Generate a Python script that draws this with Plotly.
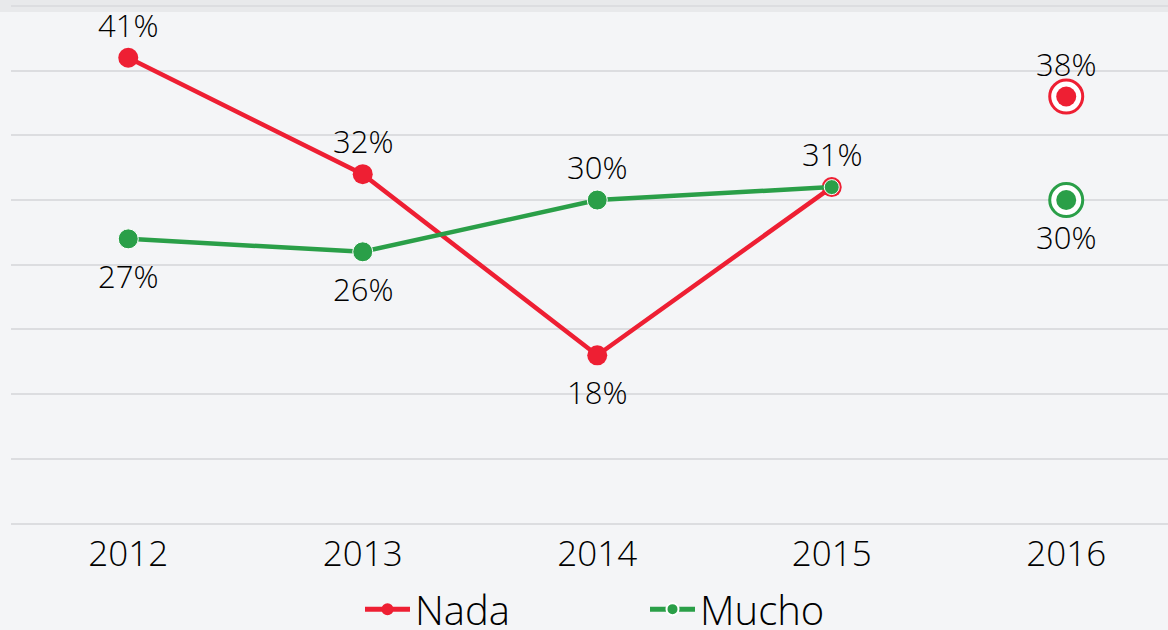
import plotly.graph_objects as go

# Survey results by year (percent of respondents)
years = ["2012", "2013", "2014", "2015", "2016"]
nada = [41, 32, 18, 31, 38]
mucho = [27, 26, 30, 31, 30]

# Label placement per point: +1 above the marker, -1 below, 0 hidden (shared label)
nada_side = [1, 1, -1, 1, 1]
mucho_side = [-1, -1, 1, 0, -1]

RED = "#ee1f33"
GREEN = "#2a9f48"
TXT = "#000000"
BG = "#f4f5f7"
FONT = "Open Sans"
LABEL_FONT = dict(family=FONT, size=31, color=TXT, weight=300)

# 2012-2015 are joined by a line; 2016 is shown as a standalone highlighted point
hist = slice(0, 4)
last = 4

fig = go.Figure()

fig.add_trace(go.Scatter(
    x=years[hist], y=nada[hist], name="Nada",
    mode="lines+markers",
    line=dict(color=RED, width=4.5),
    marker=dict(color=RED, size=20, opacity=1),
    cliponaxis=False,
))
fig.add_trace(go.Scatter(
    x=years[hist], y=mucho[hist], name="Mucho",
    mode="lines+markers",
    line=dict(color=GREEN, width=4.5),
    marker=dict(color=GREEN, size=[20, 20, 20, 15], opacity=1),
    cliponaxis=False,
))

# Highlighted 2016 points: ring plus inner dot
for vals, color in ((nada, RED), (mucho, GREEN)):
    fig.add_trace(go.Scatter(
        x=[years[last]], y=[vals[last]], mode="markers", showlegend=False,
        marker=dict(color="white", size=33, line=dict(color=color, width=3)),
        hoverinfo="skip", cliponaxis=False,
    ))
    fig.add_trace(go.Scatter(
        x=[years[last]], y=[vals[last]], mode="markers", showlegend=False,
        marker=dict(color=color, size=20),
        cliponaxis=False,
    ))

# Value labels (x given as category index)
for vals, sides in ((nada, nada_side), (mucho, mucho_side)):
    for i, (v, s) in enumerate(zip(vals, sides)):
        if s == 0:
            continue
        fig.add_annotation(
            x=i, y=v, xref="x", yref="y", text=f"{v}%", showarrow=False,
            xanchor="center", yanchor="middle",
            yshift=33 if s > 0 else -37,
            font=LABEL_FONT,
        )

W, H = 1168, 630
ML, MR, MT, MB = 11, 0, 0, 100
plot_w = W - ML - MR
plot_h = H - MT - MB

# header strip along the top edge
fig.add_shape(
    type="rect", xref="paper", yref="paper",
    x0=-ML / plot_w, x1=1, y0=1 - 12 / plot_h, y1=1,
    fillcolor="#e8e9eb", line=dict(width=0), layer="below",
)

fig.update_layout(
    width=W, height=H,
    margin=dict(l=ML, r=MR, t=MT, b=MB, pad=0, autoexpand=False),
    paper_bgcolor=BG, plot_bgcolor=BG,
    showlegend=True,
    legend=dict(
        orientation="h", x=(360 - ML) / plot_w, xanchor="left",
        y=-0.088, yanchor="top",
        font=dict(family=FONT, size=40, color=TXT, weight=300),
        itemsizing="constant", itemwidth=45,
        entrywidth=225, entrywidthmode="pixels",
        bgcolor="rgba(0,0,0,0)",
    ),
    xaxis=dict(
        type="category", range=[-0.5, 4.434], automargin=False,
        showgrid=False, zeroline=False, showline=False,
        ticks="", ticklabelstandoff=0,
        tickfont=dict(family=FONT, size=35, color=TXT, weight=300),
    ),
    yaxis=dict(
        range=[4.5, 45.46], tick0=0, dtick=5, automargin=False,
        showticklabels=False, zeroline=False, showline=False,
        gridcolor="#dcdde0", gridwidth=2,
    ),
)

fig.write_html("out.html")
